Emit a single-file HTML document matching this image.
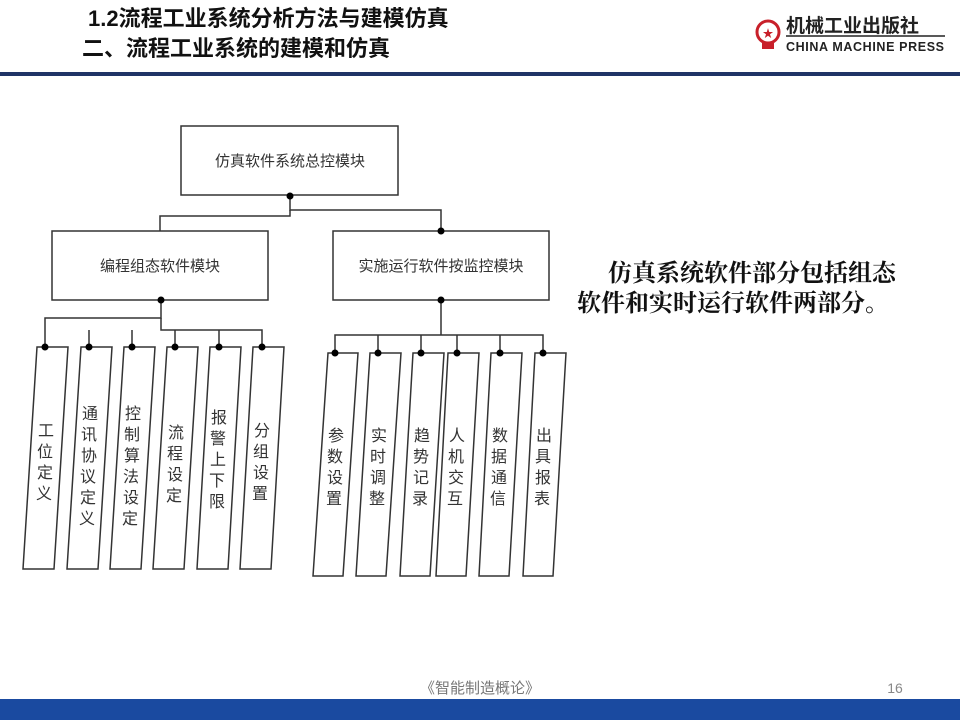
<!DOCTYPE html>
<html><head><meta charset="utf-8"><style>
html,body{margin:0;padding:0;background:#fff;}
svg{display:block;}
</style></head><body>
<svg width="960" height="720" viewBox="0 0 960 720" xmlns="http://www.w3.org/2000/svg" font-family="'Liberation Sans','Noto Sans CJK SC',sans-serif">
<rect width="960" height="720" fill="#fff"/>
<text x="88" y="26" font-size="22" font-weight="bold" fill="#111">1.2流程工业系统分析方法与建模仿真</text>
<text x="82" y="56" font-size="22" font-weight="bold" fill="#111">二、流程工业系统的建模和仿真</text>
<!-- logo -->
<circle cx="768" cy="32" r="11" fill="none" stroke="#c8202a" stroke-width="3"/>
<text x="768" y="37" font-size="11" fill="#c8202a" text-anchor="middle">★</text>
<rect x="762" y="43" width="12" height="6" fill="#c8202a"/>
<text x="786" y="32" font-size="19" font-weight="bold" fill="#222">机械工业出版社</text>
<line x1="786" y1="36" x2="945" y2="36" stroke="#222" stroke-width="1.5"/>
<text x="786" y="51" font-size="12.5" font-weight="bold" fill="#222" textLength="158">CHINA MACHINE PRESS</text>
<rect x="0" y="72" width="960" height="4" fill="#1f3466"/>

<g stroke="#333" stroke-width="1.5" fill="none">
<rect x="181" y="126" width="217" height="69" fill="#fff"/>
<rect x="52" y="231" width="216" height="69" fill="#fff"/>
<rect x="333" y="231" width="216" height="69" fill="#fff"/>
<polyline points="290,196 290,210 441,210 441,231"/>
<polyline points="290,210 290,216 160,216 160,231"/>
<polyline points="161,300 161,318 45,318 45,347"/>
<polyline points="161,318 161,330 262,330 262,347"/>
<line x1="89" y1="330" x2="89" y2="347"/>
<line x1="132" y1="330" x2="132" y2="347"/>
<line x1="175" y1="330" x2="175" y2="347"/>
<line x1="219" y1="330" x2="219" y2="347"/>
<line x1="441" y1="300" x2="441" y2="335"/>
<polyline points="335,353 335,335 543,335 543,353"/>
<line x1="378" y1="335" x2="378" y2="353"/>
<line x1="421" y1="335" x2="421" y2="353"/>
<line x1="457" y1="335" x2="457" y2="353"/>
<line x1="500" y1="335" x2="500" y2="353"/>
<polygon points="37,347 68,347 54,569 23,569" fill="#fff"/>
<polygon points="81,347 112,347 98,569 67,569" fill="#fff"/>
<polygon points="124,347 155,347 141,569 110,569" fill="#fff"/>
<polygon points="167,347 198,347 184,569 153,569" fill="#fff"/>
<polygon points="210,347 241,347 228,569 197,569" fill="#fff"/>
<polygon points="253,347 284,347 271,569 240,569" fill="#fff"/>
<polygon points="328,353 358,353 343,576 313,576" fill="#fff"/>
<polygon points="370,353 401,353 386,576 356,576" fill="#fff"/>
<polygon points="413,353 444,353 430,576 400,576" fill="#fff"/>
<polygon points="448,353 479,353 466,576 436,576" fill="#fff"/>
<polygon points="491,353 522,353 509,576 479,576" fill="#fff"/>
<polygon points="535,353 566,353 553,576 523,576" fill="#fff"/>
</g>
<g fill="#000">
<circle cx="290" cy="196" r="3.5"/><circle cx="441" cy="231" r="3.5"/>
<circle cx="161" cy="300" r="3.5"/><circle cx="441" cy="300" r="3.5"/>
<circle cx="45" cy="347" r="3.5"/><circle cx="89" cy="347" r="3.5"/><circle cx="132" cy="347" r="3.5"/>
<circle cx="175" cy="347" r="3.5"/><circle cx="219" cy="347" r="3.5"/><circle cx="262" cy="347" r="3.5"/>
<circle cx="335" cy="353" r="3.5"/><circle cx="378" cy="353" r="3.5"/><circle cx="421" cy="353" r="3.5"/>
<circle cx="457" cy="353" r="3.5"/><circle cx="500" cy="353" r="3.5"/><circle cx="543" cy="353" r="3.5"/>
</g>
<g font-size="15" fill="#333" text-anchor="middle">
<text x="290" y="166">仿真软件系统总控模块</text>
<text x="160" y="271">编程组态软件模块</text>
<text x="441" y="271">实施运行软件按监控模块</text>
</g>
<g font-size="16" fill="#333" text-anchor="middle">
<text x="46" y="436">工</text><text x="45" y="457">位</text><text x="45" y="478">定</text><text x="44" y="499">义</text>
<text x="90" y="419">通</text><text x="89" y="440">讯</text><text x="89" y="461">协</text><text x="88" y="482">议</text><text x="88" y="503">定</text><text x="87" y="524">义</text>
<text x="133" y="419">控</text><text x="132" y="440">制</text><text x="132" y="461">算</text><text x="131" y="482">法</text><text x="131" y="503">设</text><text x="130" y="524">定</text>
<text x="176" y="438">流</text><text x="175" y="459">程</text><text x="175" y="480">设</text><text x="174" y="501">定</text>
<text x="219" y="423">报</text><text x="218" y="444">警</text><text x="218" y="465">上</text><text x="217" y="486">下</text><text x="217" y="507">限</text>
<text x="262" y="436">分</text><text x="261" y="457">组</text><text x="261" y="478">设</text><text x="260" y="499">置</text>
<text x="336" y="441">参</text><text x="335" y="462">数</text><text x="335" y="483">设</text><text x="334" y="504">置</text>
<text x="379" y="441">实</text><text x="378" y="462">时</text><text x="378" y="483">调</text><text x="377" y="504">整</text>
<text x="422" y="441">趋</text><text x="421" y="462">势</text><text x="421" y="483">记</text><text x="420" y="504">录</text>
<text x="457" y="441">人</text><text x="456" y="462">机</text><text x="456" y="483">交</text><text x="455" y="504">互</text>
<text x="500" y="441">数</text><text x="499" y="462">据</text><text x="499" y="483">通</text><text x="498" y="504">信</text>
<text x="544" y="441">出</text><text x="543" y="462">具</text><text x="543" y="483">报</text><text x="542" y="504">表</text>
</g>
<g font-family="'Liberation Serif','Noto Serif CJK SC',serif" font-size="24" fill="#111" font-weight="bold">
<text x="608" y="281">仿真系统软件部分包括组态</text>
<text x="577" y="311">软件和实时运行软件两部分。</text>
</g>
<text x="480" y="693" font-size="15" fill="#777" text-anchor="middle">《智能制造概论》</text>
<text x="895" y="693" font-size="14" fill="#888" text-anchor="middle">16</text>
<rect x="0" y="699" width="960" height="21" fill="#1a4aa0"/>
</svg>
</body></html>
